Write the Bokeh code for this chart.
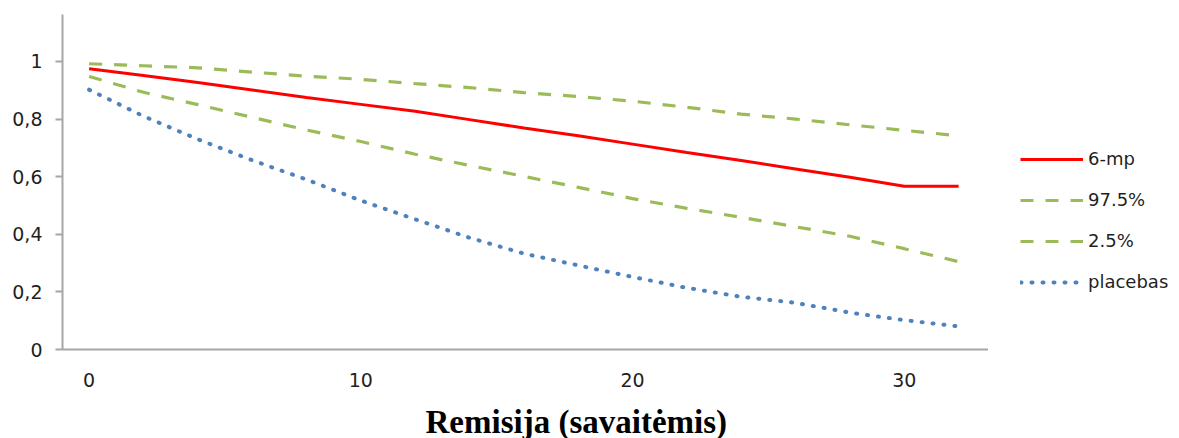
from bokeh.plotting import figure
from bokeh.layouts import row, column
from bokeh.models import (Legend, LegendItem, FixedTicker, CustomJSTickFormatter,
                          Label, Range1d)
from bokeh.embed import file_html
from bokeh.resources import INLINE

# ---- data ----
weeks = [0, 2, 4, 6, 8, 10, 12, 14, 16, 18, 20, 22, 24, 26, 28, 30, 32]
mp6 = [0.975, 0.951, 0.927, 0.901, 0.875, 0.851, 0.827, 0.798, 0.769, 0.742,
       0.713, 0.684, 0.656, 0.627, 0.598, 0.567, 0.567]
upper_975 = [0.992, 0.985, 0.978, 0.963, 0.949, 0.938, 0.923, 0.909, 0.892, 0.878,
             0.862, 0.841, 0.817, 0.800, 0.780, 0.761, 0.742]
lower_25 = [0.948, 0.893, 0.850, 0.806, 0.762, 0.722, 0.678, 0.639, 0.601, 0.563,
            0.524, 0.490, 0.459, 0.426, 0.393, 0.350, 0.305]
placebo = [0.902, 0.810, 0.730, 0.657, 0.590, 0.517, 0.452, 0.388, 0.333, 0.292,
           0.252, 0.214, 0.183, 0.162, 0.128, 0.102, 0.080]

series_names = ["6-mp", "97.5%", "2.5%", "placebas"]
x_ticks = [0, 10, 20, 30]
y_ticks = [0, 0.2, 0.4, 0.6, 0.8, 1]
x_title = "Remisija (savaitėmis)"

styles = [
    dict(line_color="#FF0000", line_width=3),
    dict(line_color="#9BBB59", line_width=3.2, line_dash="13 12"),
    dict(line_color="#9BBB59", line_width=3.2, line_dash="13 12"),
    dict(line_color="#4F81BD", line_width=4, line_dash="1 10", line_cap="round"),
]
series = [mp6, upper_975, lower_25, placebo]

# ---- main chart ----
p = figure(width=988, height=400, output_backend="svg", toolbar_location=None,
           x_range=Range1d(-0.98, 33.1), y_range=Range1d(0, 1.163),
           min_border_left=62, min_border_right=0, min_border_top=14,
           min_border_bottom=51)
p.outline_line_color = None
p.xgrid.visible = False
p.ygrid.visible = False

axis_col = "#A6A6A6"
lab_col = "#1F1F1F"
for ax in (p.xaxis[0], p.yaxis[0]):
    ax.axis_line_color = axis_col
    ax.axis_line_width = 2
    ax.major_tick_line_color = axis_col
    ax.major_tick_line_width = 2
    ax.minor_tick_line_color = None
    ax.major_label_text_font = "DejaVu Sans"
    ax.major_label_text_font_size = "19px"
    ax.major_label_text_color = lab_col

p.xaxis.ticker = FixedTicker(ticks=x_ticks)
p.xaxis.major_tick_out = 0
p.xaxis.major_tick_in = 0
p.xaxis.major_label_standoff = 23

p.yaxis.ticker = FixedTicker(ticks=y_ticks)
p.yaxis.major_tick_out = 7
p.yaxis.major_tick_in = 0
p.yaxis.major_label_standoff = 13
p.yaxis.formatter = CustomJSTickFormatter(
    code="var s = tick.toFixed(1).replace('.', ','); return s.endsWith(',0') ? s.slice(0, -2) : s;")

for ys, st in zip(series, styles):
    p.line(weeks, ys, **st)

# ---- legend panel (series drawn off-range, only their legend samples show) ----
pl = figure(width=191, height=400, output_backend="svg", toolbar_location=None,
            x_axis_type=None, y_axis_type=None, min_border=0,
            x_range=Range1d(100, 101), y_range=Range1d(100, 101))
pl.outline_line_color = None
pl.xgrid.visible = False
pl.ygrid.visible = False
leg_renderers = [pl.line(weeks, ys, **st) for ys, st in zip(series, styles)]
legend = Legend(items=[LegendItem(label=n, renderers=[r]) for n, r in
                       zip(series_names, leg_renderers)],
                location=(32, 57), glyph_width=63, glyph_height=20, label_height=20,
                spacing=20, padding=0, margin=0, border_line_color=None,
                background_fill_alpha=0, label_text_font="DejaVu Sans",
                label_text_font_size="18px", label_text_color=lab_col, label_standoff=5)
pl.add_layout(legend, "center")

# ---- axis title strip ----
pt = figure(width=1179, height=38, output_backend="svg", toolbar_location=None,
            x_axis_type=None, y_axis_type=None, min_border=0,
            x_range=Range1d(0, 1179), y_range=Range1d(0, 38))
pt.outline_line_color = None
pt.xgrid.visible = False
pt.ygrid.visible = False
pt.add_layout(Label(x=425, y=17, text=x_title, text_align="left", text_baseline="middle",
                    text_font="Liberation Serif", text_font_style="bold",
                    text_font_size="33px", text_color="black"))

layout = column(row(p, pl), pt)
open("out.html", "w").write(file_html(layout, INLINE))
